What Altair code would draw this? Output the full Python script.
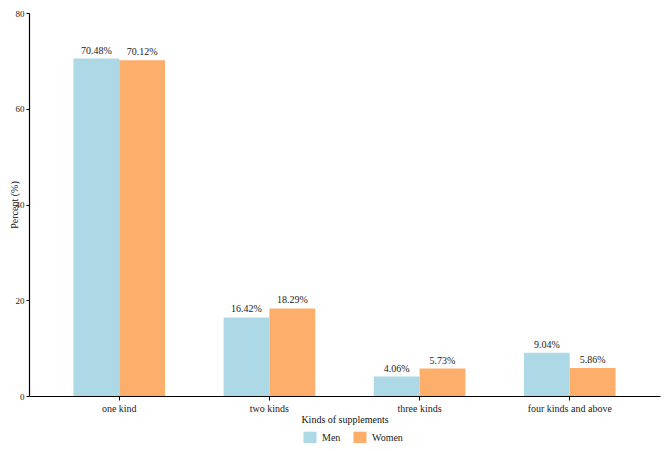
import altair as alt
import pandas as pd

categories = ["one kind", "two kinds", "three kinds", "four kinds and above"]
groups = ["Men", "Women"]
men = [70.48, 16.42, 4.06, 9.04]
women = [70.12, 18.29, 5.73, 5.86]

rows = []
for c, m, w in zip(categories, men, women):
    rows.append({"kind": c, "sex": "Men", "pct": m, "label": f"{m:.2f}%"})
    rows.append({"kind": c, "sex": "Women", "pct": w, "label": f"{w:.2f}%"})
df = pd.DataFrame(rows)

FONT = "Liberation Serif"
PLOT_W = 631
PLOT_H = 383

x = alt.X("kind:N", sort=categories, title="Kinds of supplements",
          scale=alt.Scale(paddingInner=0.39, paddingOuter=0.296),
          axis=alt.Axis(labelAngle=0, domainColor="black", tickColor="black",
                        labelColor="#222", titleColor="#111", labelFontSize=10,
                        titleFontSize=10, labelFont=FONT, titleFont=FONT,
                        titleFontWeight="normal", grid=False,
                        titlePadding=1, labelPadding=3, tickSize=4, domainWidth=1.2))
y = alt.Y("pct:Q", title="Percent (%)",
          scale=alt.Scale(domain=[0, 80], nice=False),
          axis=alt.Axis(values=[0, 20, 40, 60, 80], grid=False, domainColor="black",
                        tickColor="black", labelColor="#222", titleColor="#111",
                        labelFontSize=9, titleFontSize=10, labelFont=FONT, titleFont=FONT,
                        titleFontWeight="normal", titleX=-15, titleY=PLOT_H / 2,
                        titleAngle=270, titleAlign="center", titleBaseline="middle",
                        tickSize=3, labelPadding=2, domainWidth=1.2))
color = alt.Color("sex:N", sort=groups,
                  scale=alt.Scale(domain=groups, range=["#ADD8E6", "#FDAE6B"]),
                  legend=alt.Legend(title=None, orient="none", legendX=274, legendY=418,
                                    direction="horizontal", symbolType="square",
                                    symbolSize=170, symbolStrokeWidth=0,
                                    labelFont=FONT, labelFontSize=10, labelColor="#222",
                                    columnPadding=12, labelOffset=5))
xo = alt.XOffset("sex:N", sort=groups)

bars = alt.Chart(df).mark_bar(opacity=1).encode(x=x, y=y, color=color, xOffset=xo)
text = alt.Chart(df).mark_text(dy=-8, font=FONT, fontSize=10, color="#222").encode(
    x=x, y=y, xOffset=xo, text="label:N")

chart = (bars + text).properties(
    width=PLOT_W, height=PLOT_H,
    background="white",
    autosize=alt.AutoSizeParams(type="none"),
    padding={"left": 21, "top": 5, "right": 1, "bottom": 47},
).configure(font=FONT).configure_view(strokeWidth=0, stroke=None)

chart.save("out.html", embed_options={"renderer": "svg", "actions": False})
